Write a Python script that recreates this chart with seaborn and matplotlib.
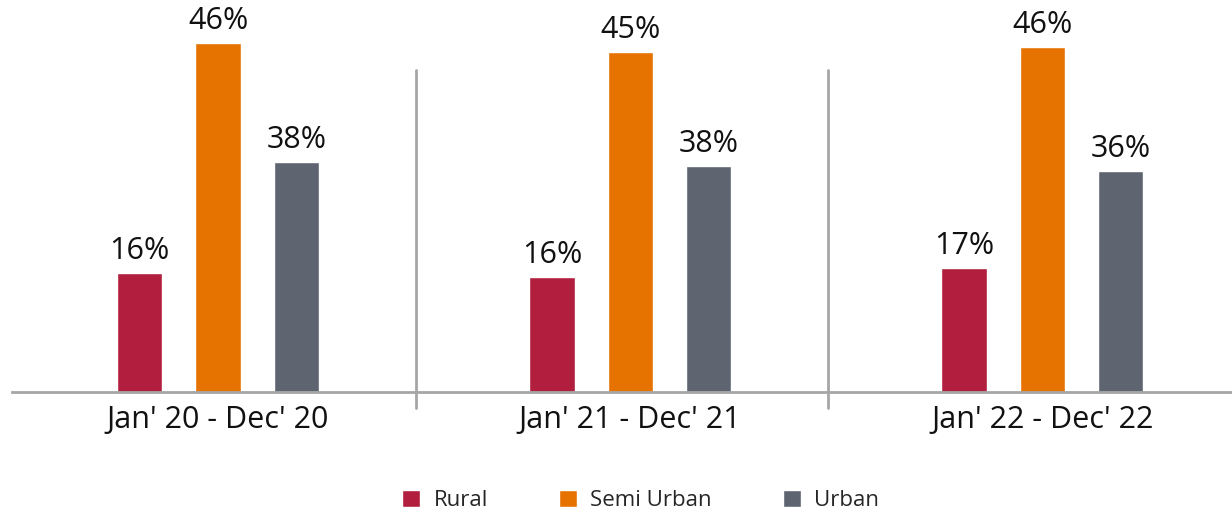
import pandas as pd
import matplotlib
matplotlib.use("Agg")
import matplotlib.pyplot as plt
import seaborn as sns

# --- DATA ---
PERIODS = ["Jan' 20 - Dec' 20", "Jan' 21 - Dec' 21", "Jan' 22 - Dec' 22"]
AREAS = ["Rural", "Semi Urban", "Urban"]
# bar heights as drawn in the source chart (urban bars are drawn shorter than their labels)
RURAL_H = [15.7, 15.2, 16.3]
SEMI_H = [46.0, 44.7, 45.4]
URBAN_H = [30.3, 29.8, 29.1]
# labels printed above the bars
RURAL_LBL = ["16%", "16%", "17%"]
SEMI_LBL = ["46%", "45%", "46%"]
URBAN_LBL = ["38%", "38%", "36%"]

COLORS = ["#B21F3E", "#E67300", "#5E6570"]
AXIS_GREY = "#A6A6A6"


def build_frame():
    rows = []
    for area, heights in zip(AREAS, [RURAL_H, SEMI_H, URBAN_H]):
        for period, h in zip(PERIODS, heights):
            rows.append({"Period": period, "Area": area, "Share": h})
    return pd.DataFrame(rows)


def main():
    df = build_frame()
    sns.set_style("white")
    plt.rcParams["font.family"] = ["Open Sans", "DejaVu Sans"]

    fig = plt.figure(figsize=(12.32, 5.14), dpi=100)
    ax = fig.add_axes([12 / 1232, 122 / 514, 1 - 12 / 1232, 392 / 514])

    sns.barplot(data=df, x="Period", y="Share", hue="Area", order=PERIODS,
                hue_order=AREAS, palette=COLORS, width=0.57, gap=0.42,
                saturation=1, ax=ax)

    for cont, labels in zip(ax.containers, [RURAL_LBL, SEMI_LBL, URBAN_LBL]):
        ax.bar_label(cont, labels=labels, padding=5, fontsize=22, color="#111111")

    ax.set_xlim(-0.5, 2.46)
    ax.set_ylim(0, 51.6)

    # separators between the periods
    for xs in [0.48, 1.48]:
        ax.plot([xs, xs], [-2.1, 42.4], color=AXIS_GREY, lw=2, clip_on=False)

    for side in ["top", "right", "left"]:
        ax.spines[side].set_visible(False)
    ax.spines["bottom"].set_color(AXIS_GREY)
    ax.spines["bottom"].set_linewidth(2)
    ax.set_yticks([])
    ax.set_xlabel("")
    ax.set_ylabel("")
    ax.tick_params(axis="x", length=0, pad=9, labelsize=22, colors="#111111")

    sns.move_legend(ax, "center", bbox_to_anchor=(0.52, 0.026),
                    bbox_transform=fig.transFigure, ncol=3, frameon=False,
                    title=None, fontsize=16, handlelength=0.8, handleheight=0.8,
                    handletextpad=0.6, columnspacing=3.2)

    fig.savefig("out.png", dpi=100)


if __name__ == "__main__":
    main()
